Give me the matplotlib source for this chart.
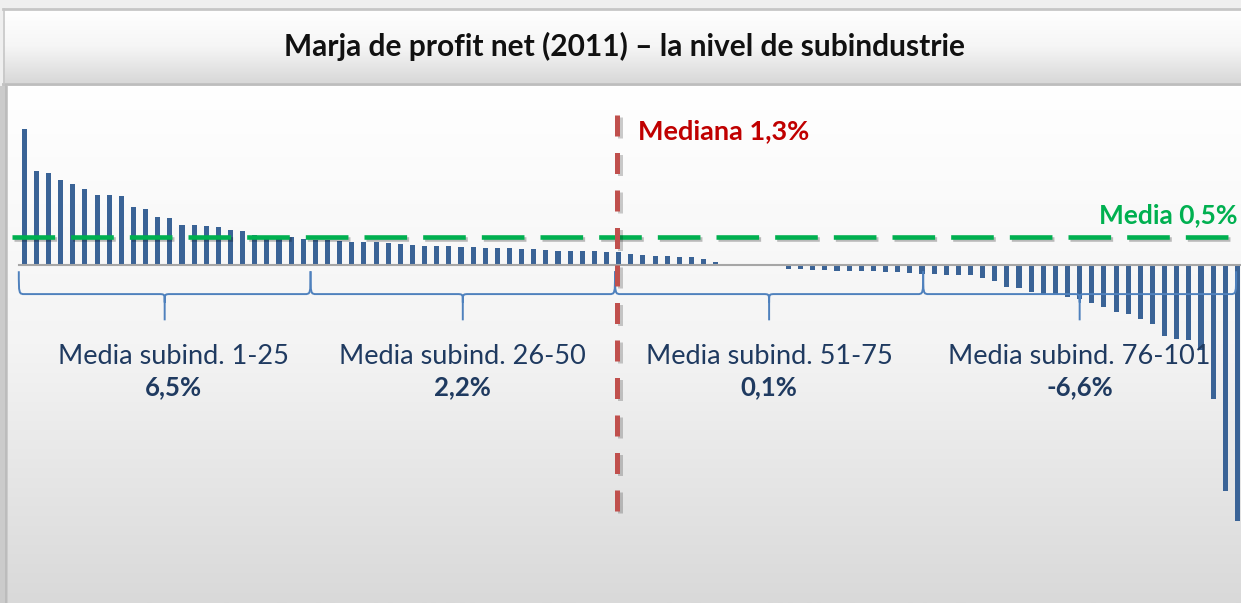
import numpy as np
import matplotlib.pyplot as plt
from matplotlib.colors import LinearSegmentedColormap
from matplotlib.path import Path
from matplotlib.patches import PathPatch, Rectangle
import matplotlib.patheffects as pe

plt.rcParams['font.family'] = ['Lato', 'DejaVu Sans']

# -----------------------------
# data: net profit margin (%) per sub-industry, sorted
# -----------------------------
grp1 = [16.1, 11.1, 10.9, 10.1, 9.6, 9.0, 8.35, 8.3, 8.2, 6.85, 6.7, 5.75, 5.65,
        4.8, 4.8, 4.7, 4.5, 4.2, 4.05, 3.55, 3.45, 3.4, 3.3, 3.1, 3.0]
grp2 = [2.95, 2.9, 2.75, 2.7, 2.7, 2.65, 2.5, 2.35, 2.3, 2.3, 2.25, 2.2, 2.2,
        2.1, 2.05, 2.05, 1.95, 1.9, 1.8, 1.75, 1.7, 1.65, 1.65, 1.6, 1.6]
grp3 = [1.3, 1.2, 1.1, 1.05, 1.0, 0.95, 0.8, 0.45, 0.2, 0.15, 0.15, 0.08, 0.04,
        -0.44, -0.47, -0.51, -0.55, -0.62, -0.67, -0.7, -0.72, -0.78, -0.83, -0.9, -1.0]
grp4 = [-1.05, -1.15, -1.15, -1.2, -1.55, -1.8, -2.55, -2.7, -3.1, -3.55, -3.55,
        -3.8, -4.0, -4.5, -4.9, -5.55, -5.75, -6.3, -6.9, -8.4, -8.75, -8.8,
        -10.0, -15.8, -26.65, -30.2]

group_labels = ["Media subind. 1-25", "Media subind. 26-50",
                "Media subind. 51-75", "Media subind. 76-101"]
group_means = ["6,5%", "2,2%", "0,1%", "-6,6%"]
median_label = "Mediana 1,3%"
mean_label = "Media 0,5%"
title = "Marja de profit net (2011) \u2013 la nivel de subindustrie"

values = np.array(grp1 + grp2 + grp3 + grp4)
idx = np.arange(len(values))

# -----------------------------
# figure + background
# -----------------------------
W, H = 1241, 603
fig = plt.figure(figsize=(W / 100, H / 100), dpi=100)
fig.patch.set_facecolor('#efefef')

bg = fig.add_axes([0, 0, 1, 1])
bg.set_xlim(0, W)
bg.set_ylim(H, 0)
bg.axis('off')

grad = np.linspace(0, 1, 256)[:, None]
title_cm = LinearSegmentedColormap.from_list('t', ['#ffffff', '#f6f6f6', '#d8d8d8'])
area_cm = LinearSegmentedColormap.from_list('a', ['#ffffff', '#f4f4f4', '#d9d9d9'])

bg.imshow(grad, cmap=title_cm, extent=[3, W, 83, 9], aspect='auto')
bg.imshow(grad, cmap=area_cm, extent=[8, W, H, 86], aspect='auto')
bg.add_patch(Rectangle((0, 86), 8, H - 86, color='#cbcbcb', lw=0))
bg.plot([6, 6], [86, H], color='#b9b9b9', lw=1.2)
bg.plot([3, W], [8.5, 8.5], color='#c6c6c6', lw=2)
bg.plot([3, W], [83.5, 83.5], color='#bdbdbd', lw=2)
bg.plot([3.5, 3.5], [8.5, 83.5], color='#c6c6c6', lw=1.2)
bg.text(625, 46, title, ha='center', va='center', fontsize=21.5,
        fontweight='bold', color='#111111')

# -----------------------------
# bars
# -----------------------------
ax = fig.add_axes([0, 0, 1, 1])
ax.patch.set_alpha(0)
ax.axis('off')
ax.set_xlim(-2.0, 100.3)
ax.set_ylim(-39.9, 31.35)

ax.bar(idx, values, width=0.42, color='#3a6396', zorder=2)
ax.plot([-0.45, 100.3], [0, 0], color='#a6a6a6', lw=1.5, zorder=3)

# mean (green) and median (red) markers
ax.plot([-1.0, 99.4], [3.3, 3.3], color='#00b050', lw=3.3,
        linestyle=(0, (9.3, 3.5)), zorder=4,
        path_effects=[pe.SimpleLineShadow(offset=(1.5, -1.5), alpha=0.25),
                      pe.Normal()])
ax.text(100.05, 5.9, mean_label, ha='right', va='center', fontsize=19,
        fontweight='bold', color='#00b050')

ax.plot([48.9, 48.9], [17.8, -29.0], color='#c0504d', lw=3.6,
        linestyle=(0, (4.2, 3.3)), zorder=5,
        path_effects=[pe.SimpleLineShadow(offset=(1.5, -1.5), alpha=0.2),
                      pe.Normal()])
ax.text(50.6, 15.9, median_label, ha='left', va='center', fontsize=19.5,
        fontweight='bold', color='#c00000')

# braces under each group of 25
edges = [-0.45, 23.6, 48.7, 74.1, 99.9]
y_top, y_mid, y_tip = -0.7, -3.4, -6.5
r, dy = 0.5, 1.0
for k in range(4):
    x0, x1 = edges[k], edges[k + 1]
    xm = (x0 + x1) / 2
    verts = [(x0, y_top), (x0, y_mid), (x0, y_mid), (x0 + r, y_mid),
             (xm - r, y_mid), (xm, y_mid), (xm, y_mid), (xm, y_mid - dy),
             (xm, y_tip),
             (xm, y_mid - dy), (xm, y_mid), (xm, y_mid), (xm + r, y_mid),
             (x1 - r, y_mid), (x1, y_mid), (x1, y_mid), (x1, y_top)]
    codes = [Path.MOVETO, Path.CURVE4, Path.CURVE4, Path.CURVE4,
             Path.LINETO, Path.CURVE4, Path.CURVE4, Path.CURVE4,
             Path.LINETO,
             Path.MOVETO, Path.CURVE4, Path.CURVE4, Path.CURVE4,
             Path.LINETO, Path.CURVE4, Path.CURVE4, Path.CURVE4]
    ax.add_patch(PathPatch(Path(verts, codes), fill=False,
                           edgecolor='#4f81bd', lw=1.4, zorder=3))
    shift = 0.7 if k == 0 else 0
    ax.text(xm + shift, -10.8, group_labels[k], ha='center',
            va='center', fontsize=19.5, color='#1f3a60')
    ax.text(xm + shift, -14.45, group_means[k], ha='center', va='center',
            fontsize=18.5, fontweight='bold', color='#1f3a60')

fig.savefig('out.png', dpi=100)
